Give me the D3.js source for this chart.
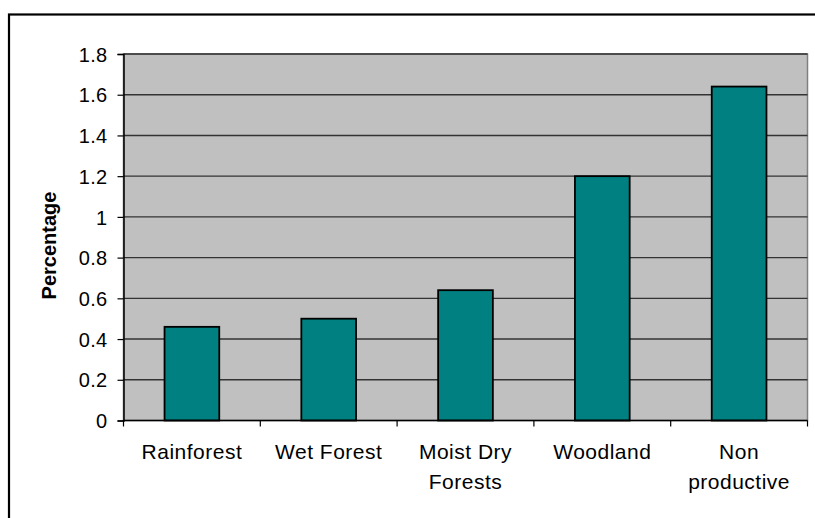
<!DOCTYPE html>
<html>
<head>
<meta charset="utf-8">
<script src="https://cdn.jsdelivr.net/npm/d3@7/dist/d3.min.js"></script>
<style>
    body { margin: 0; background: #fff; }
    svg { display: block; font-family: "Liberation Sans", Arial, sans-serif; }
</style>
</head>
<body>
<svg id="chart" width="815" height="518"></svg>
<script>

// chart data
var categories = ["Rainforest", "Wet Forest", "Moist Dry Forests", "Woodland", "Non productive"];
var labelLines = [["Rainforest"], ["Wet Forest"], ["Moist Dry", "Forests"], ["Woodland"], ["Non", "productive"]];
var values = [0.46, 0.5, 0.64, 1.2, 1.64];
var yTicks = [0, 0.2, 0.4, 0.6, 0.8, 1, 1.2, 1.4, 1.6, 1.8];
var yTitle = "Percentage";

var svg = d3.select("#chart");

var plotLeft = 123.5,
    plotTop = 54,
    plotRight = 807.5,
    plotBottom = 420.5;

// outer chart border (right/bottom run off the picture)
svg.append("rect")
    .attr("x", 9)
    .attr("y", 14.5)
    .attr("width", 900)
    .attr("height", 600)
    .attr("fill", "none")
    .attr("stroke", "#000")
    .attr("stroke-width", 2.2);

var x = d3.scaleBand()
    .domain(categories)
    .range([plotLeft, plotRight])
    .paddingInner(0)
    .paddingOuter(0);

var y = d3.scaleLinear()
    .domain([0, 1.8])
    .range([plotBottom, plotTop]);

// plot area
svg.append("rect")
    .attr("x", plotLeft)
    .attr("y", plotTop)
    .attr("width", plotRight - plotLeft)
    .attr("height", plotBottom - plotTop)
    .attr("fill", "#c0c0c0")
    .attr("stroke", "#808080")
    .attr("stroke-width", 1.5);

// gridlines
svg.append("g")
    .attr("class", "grid")
    .selectAll("line")
    .data(yTicks.filter(function (d) { return d > 0; }))
    .enter()
    .append("line")
    .attr("x1", plotLeft)
    .attr("x2", plotRight)
    .attr("y1", function (d) { return y(d); })
    .attr("y2", function (d) { return y(d); })
    .attr("stroke", "#333")
    .attr("stroke-width", 1.4);

// bars (excel gap width 150%)
var barWidth = x.bandwidth() / 2.5;

svg.append("g")
    .selectAll("rect")
    .data(values)
    .enter()
    .append("rect")
    .attr("class", "bar")
    .attr("x", function (d, i) {
        return x(categories[i]) + (x.bandwidth() - barWidth) / 2;
    })
    .attr("y", function (d) { return y(d); })
    .attr("width", barWidth)
    .attr("height", function (d) { return plotBottom - y(d); })
    .attr("fill", "#008080")
    .attr("stroke", "#000")
    .attr("stroke-width", 1.8);

// y axis
var yAxis = svg.append("g")
    .attr("class", "axis axis--y")
    .attr("transform", "translate(" + plotLeft + ",0)")
    .call(d3.axisLeft(y)
        .tickValues(yTicks)
        .tickSize(6)
        .tickPadding(10)
        .tickFormat(d3.format("")));

yAxis.select(".domain").attr("stroke", "#000").attr("stroke-width", 1.5);
yAxis.selectAll(".tick line").attr("stroke", "#000").attr("stroke-width", 1.2);
yAxis.selectAll("text")
    .attr("fill", "#000")
    .style("font-size", "20px")
    .style("letter-spacing", "0.3px")
    .attr("dy", "0.36em");

// x axis: ticks sit on the band edges
var xAxis = svg.append("g")
    .attr("class", "axis axis--x")
    .attr("transform", "translate(0," + plotBottom + ")");

xAxis.append("line")
    .attr("x1", plotLeft)
    .attr("x2", plotRight)
    .attr("stroke", "#000")
    .attr("stroke-width", 1.5);

xAxis.selectAll(".xtick")
    .data(categories.concat(["end"]))
    .enter()
    .append("line")
    .attr("class", "xtick")
    .attr("x1", function (d, i) { return plotLeft + i * x.bandwidth(); })
    .attr("x2", function (d, i) { return plotLeft + i * x.bandwidth(); })
    .attr("y1", 0)
    .attr("y2", 6)
    .attr("stroke", "#000")
    .attr("stroke-width", 1.2);

var xLabels = xAxis.selectAll(".xlabel")
    .data(categories)
    .enter()
    .append("text")
    .attr("class", "xlabel")
    .attr("x", function (d) { return x(d) + x.bandwidth() / 2; })
    .attr("y", 38.5)
    .attr("text-anchor", "middle")
    .attr("fill", "#000")
    .style("font-size", "21px")
    .style("letter-spacing", "0.5px");

xLabels.selectAll("tspan")
    .data(function (d, i) { return labelLines[i]; })
    .enter()
    .append("tspan")
    .attr("x", function () { return d3.select(this.parentNode).attr("x"); })
    .attr("dy", function (d, i) { return i === 0 ? 0 : 29.5; })
    .text(function (d) { return d; });

// y title
svg.append("text")
    .attr("transform", "translate(56,245.5)rotate(-90)")
    .attr("text-anchor", "middle")
    .attr("fill", "#000")
    .style("font-size", "20px")
    .style("font-weight", "bold")
    .text(yTitle);

</script>
</body>
</html>
